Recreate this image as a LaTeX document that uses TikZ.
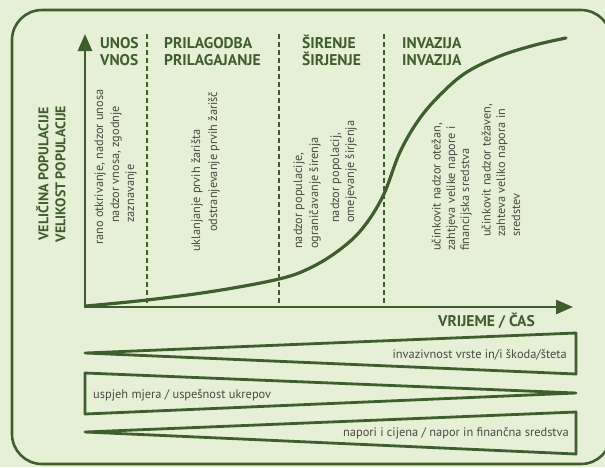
\documentclass[tikz,border=0pt]{standalone}
\usepackage{fontspec}
\setmainfont{PT Sans}
\usetikzlibrary{arrows.meta}
\definecolor{dkgreen}{HTML}{3E5E2E}
\definecolor{bggreen}{HTML}{E6F0D6}
\definecolor{txtgray}{HTML}{4A4A42}
\tikzset{
  frameline/.style={draw=dkgreen, line width=2.6pt, rounded corners=30pt},
  axisline/.style={draw=dkgreen, line width=2.8pt, line join=miter,
     arrows={Triangle[length=17pt,width=14pt]-Triangle[length=17pt,width=14pt]}},
  phase/.style={draw=dkgreen, line width=1.3pt, dash pattern=on 5pt off 3pt},
  curveline/.style={draw=dkgreen, line width=3.2pt, line cap=round},
  wedge/.style={draw=dkgreen, line width=2.8pt, line join=round},
  header/.style={text=dkgreen, font=\bfseries\fontsize{15.5}{17}\selectfont, inner sep=0pt, anchor=base west},
  axislabel/.style={text=dkgreen, font=\bfseries\fontsize{14}{17}\selectfont, inner sep=0pt},
  vtext/.style={text=txtgray, font=\fontsize{12.3}{14}\selectfont, inner sep=0pt, rotate=90, anchor=west},
  wtext/.style={text=txtgray, font=\fontsize{12.4}{14}\selectfont, inner sep=0pt}
}
\begin{document}
\begin{tikzpicture}[x=1pt,y=-1pt]
\useasboundingbox (0,0) rectangle (605,467);
\fill[bggreen] (0,0) rectangle (605,467);
\path[frameline] (12,10) rectangle (611,464);

% axes
\coordinate (O) at (85,307);
\coordinate (Ytip) at (85,34);
\coordinate (Xtip) at (573,307);
\path[axisline] (Ytip) |- (Xtip);

% phase separators
\coordinate (d1t) at (147,34); \coordinate (d1b) at (147,307);
\coordinate (d2t) at (279,34); \coordinate (d2b) at (279,307);
\coordinate (d3t) at (384,34); \coordinate (d3b) at (384,307);
\path[phase] (d1t) -- (d1b);
\path[phase] (d2t) -- (d2b);
\path[phase] (d3t) -- (d3b);

% population curve
\path[curveline] plot[smooth, tension=0.6] coordinates {(86,306) (147,300) (215,291) (279,279) (310,268) (338,251) (362,229) (383,196) (400,152) (420,118) (443,92) (467,72) (500,56) (535,45) (566,38)};

% headers
\node[header] (h1a) at (100,48) {UNOS};
\node[header] (h1b) at (100,65) {VNOS};
\node[header] (h2a) at (164,48) {PRILAGODBA};
\node[header] (h2b) at (164,65) {PRILAGAJANJE};
\node[header] (h3a) at (302,48) {ŠIRENJE};
\node[header] (h3b) at (302,65) {ŠIRJENJE};
\node[header] (h4a) at (402,48) {INVAZIJA};
\node[header] (h4b) at (402,65) {INVAZIJA};

% y label
\node[axislabel, rotate=90, align=center] (ylab) at (51,174) {VELIČINA POPULACIJE\\VELIKOST POPULACIJE};

% column texts
\node[vtext] (c1a) at (100,245) {rano otkrivanje, nadzor unosa};
\node[vtext] (c1b) at (116,223) {nadzor vnosa, zgodnje};
\node[vtext] (c1c) at (131,223) {zaznavanje};
\node[vtext] (c2a) at (197,252) {uklanjanje prvih žarišta};
\node[vtext] (c2b) at (214,232) {odstranjevanje prvih žarišč};
\node[vtext] (c3a) at (299,249) {nadzor populacije,};
\node[vtext] (c3b) at (315,249) {ograničavanje širenja};
\node[vtext] (c3c) at (336,223) {nadzor popolacij,};
\node[vtext] (c3d) at (351,223) {omejevanje širjenja};
\node[vtext] (c4a) at (437,251) {učinkovit nadzor otežan,};
\node[vtext] (c4b) at (452,251) {zahtjeva velike napore i};
\node[vtext] (c4c) at (466,251) {financijska sredstva};
\node[vtext] (c4d) at (487,237) {učinkovit nadzor težaven,};
\node[vtext] (c4e) at (502,237) {zahteva veliko napora in};
\node[vtext] (c4f) at (516,237) {sredstev};

% x label
\node[header, anchor=base east] (xlab) at (535,326) {VRIJEME / ČAS};

% wedges
\coordinate (w1a) at (85,353); \coordinate (w1b) at (576,333); \coordinate (w1c) at (576,374);
\path[wedge] (w1a) -- (w1b) -- (w1c) -- cycle;
\coordinate (w2a) at (576,393); \coordinate (w2b) at (85,373); \coordinate (w2c) at (85,414);
\path[wedge] (w2a) -- (w2b) -- (w2c) -- cycle;
\coordinate (w3a) at (85,432); \coordinate (w3b) at (576,412); \coordinate (w3c) at (576,454);
\path[wedge] (w3a) -- (w3b) -- (w3c) -- cycle;

\node[wtext, anchor=base east] (t1) at (567,358) {invazivnost vrste in/i škoda/šteta};
\node[wtext, anchor=base west] (t2) at (93,398) {uspjeh mjera / uspešnost ukrepov};
\node[wtext, anchor=base east] (t3) at (569,436) {napori i cijena / napor in finančna sredstva};
\end{tikzpicture}
\end{document}
